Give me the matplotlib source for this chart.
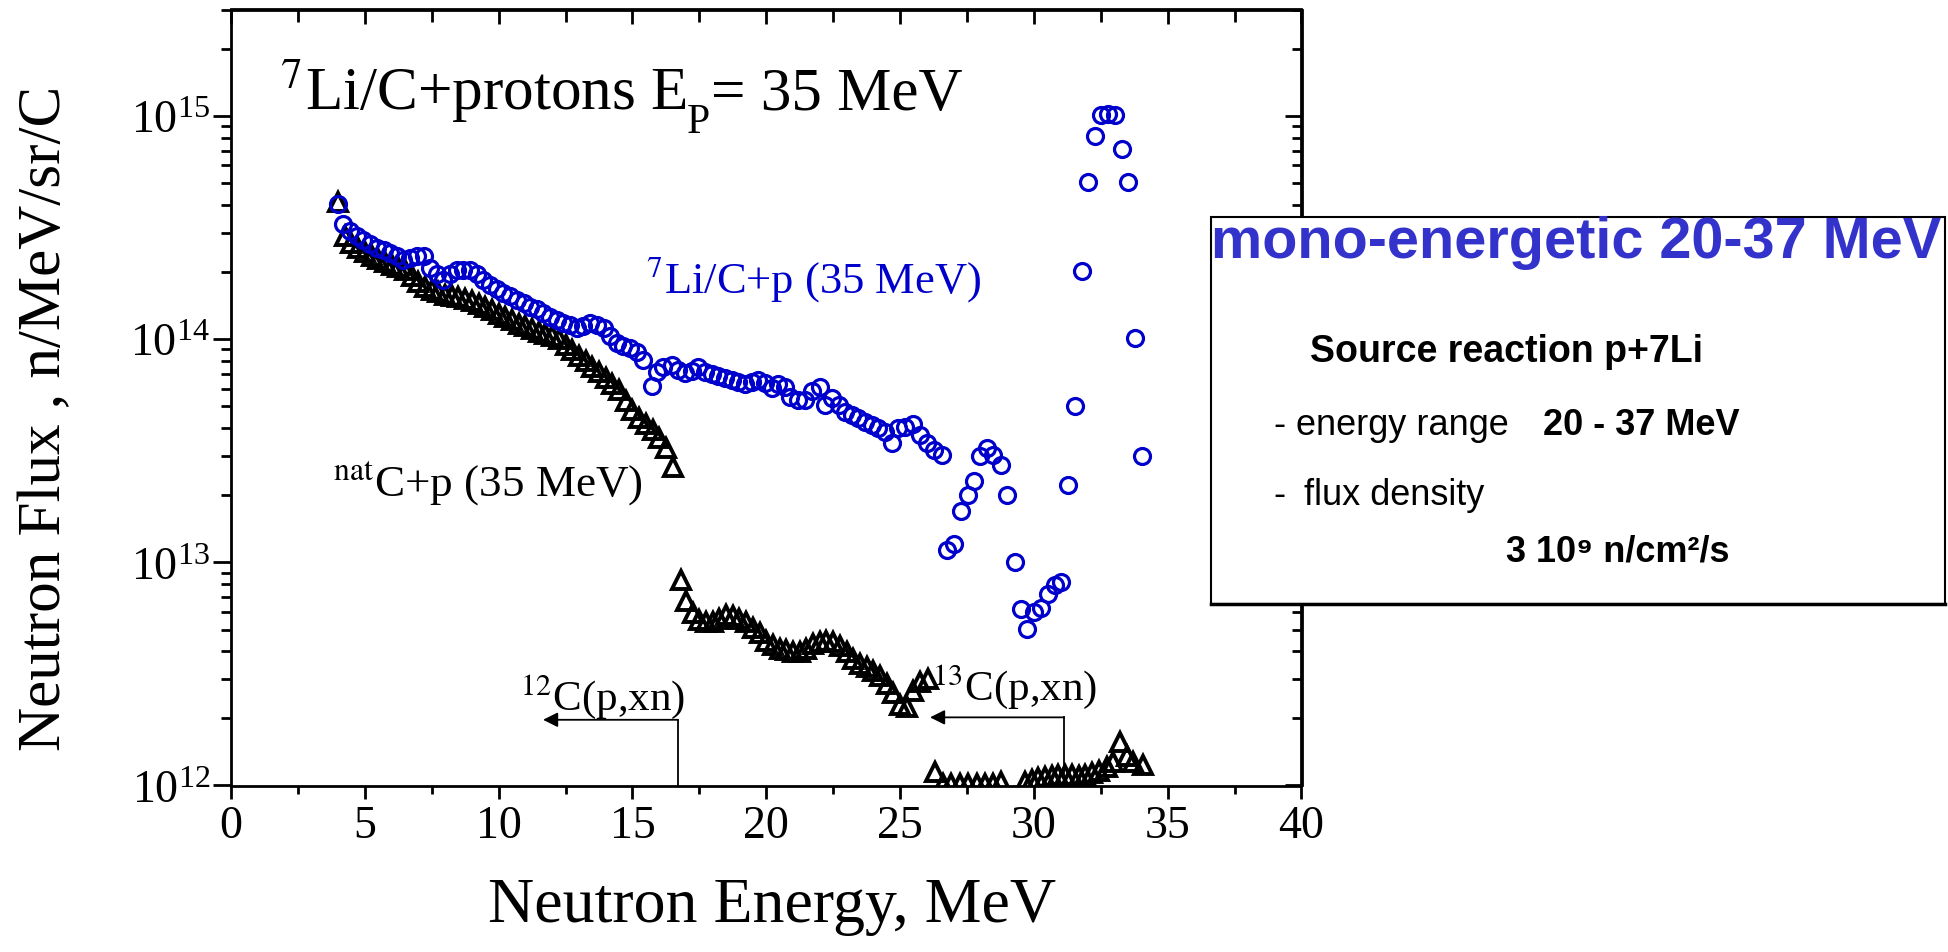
import numpy as np
import matplotlib
matplotlib.use('Agg')
import matplotlib.pyplot as plt
from matplotlib.patches import Rectangle
from matplotlib.ticker import MultipleLocator, LogLocator, NullFormatter, LogFormatterMathtext

# ---------------- data ----------------
# 7Li/C + p (35 MeV), open blue circles
li_x = [4.00, 4.20, 4.45, 4.70, 4.95, 5.20, 5.45, 5.70, 5.95, 6.19, 6.44, 6.69, 6.94, 7.21,
        7.44, 7.69, 7.93, 8.18, 8.43, 8.68, 8.93, 9.18, 9.43, 9.68, 9.93, 10.18, 10.43, 10.68,
        10.93, 11.18, 11.42, 11.67, 11.92, 12.17, 12.42, 12.67, 12.92, 13.17, 13.42, 13.67,
        13.92, 14.16, 14.41, 14.66, 14.91, 15.16, 15.41, 15.72, 15.91, 16.16, 16.47, 16.72,
        16.97, 17.21, 17.46, 17.71, 17.96, 18.21, 18.46, 18.71, 18.96, 19.21, 19.46, 19.71,
        19.96, 20.20, 20.45, 20.70, 20.89, 21.20, 21.45, 21.70, 22.01, 22.20, 22.45, 22.70,
        22.95, 23.19, 23.44, 23.69, 23.94, 24.19, 24.44, 24.69, 24.94, 25.19, 25.50, 25.75,
        26.00, 26.25, 26.56,
        26.74, 27.02, 27.27, 27.52, 27.77, 27.99, 28.24, 28.49, 28.76, 29.01, 29.30, 29.51,
        29.76, 30.01, 30.26, 30.53, 30.78, 31.03, 31.27, 31.54, 31.79, 32.04, 32.29, 32.50,
        32.76, 33.04, 33.28, 33.53, 33.78, 34.03]
li_y = [4.05e14, 3.27e14, 3.05e14, 2.90e14, 2.79e14, 2.68e14, 2.56e14, 2.52e14, 2.44e14, 2.36e14,
        2.27e14, 2.31e14, 2.36e14, 2.36e14, 2.08e14, 1.95e14, 1.85e14, 1.95e14, 2.05e14, 2.05e14,
        2.05e14, 1.95e14, 1.85e14, 1.75e14, 1.67e14, 1.61e14, 1.56e14, 1.50e14, 1.45e14, 1.40e14,
        1.36e14, 1.31e14, 1.26e14, 1.22e14, 1.18e14, 1.16e14, 1.12e14, 1.14e14, 1.18e14, 1.16e14,
        1.12e14, 1.03e14, 9.6e13, 9.3e13, 9.1e13, 8.8e13, 8.07e13, 6.14e13, 7.16e13, 7.47e13,
        7.62e13, 7.29e13, 7.05e13, 7.17e13, 7.47e13, 7.12e13, 7.00e13, 6.85e13, 6.69e13, 6.58e13,
        6.41e13, 6.28e13, 6.41e13, 6.58e13, 6.35e13, 6.07e13, 6.28e13, 6.13e13, 5.53e13, 5.35e13,
        5.35e13, 5.83e13, 6.13e13, 5.08e13, 5.44e13, 5.08e13, 4.74e13, 4.58e13, 4.42e13, 4.25e13,
        4.13e13, 3.99e13, 3.85e13, 3.42e13, 3.99e13, 4.06e13, 4.17e13, 3.72e13, 3.41e13, 3.19e13,
        3.03e13,
        1.13e13, 1.21e13, 1.70e13, 2.00e13, 2.31e13, 3.01e13, 3.24e13, 3.03e13, 2.73e13, 2.00e13,
        1.00e13, 6.2e12, 5.04e12, 6.0e12, 6.25e12, 7.24e12, 7.89e12, 8.2e12, 2.22e13, 5.04e13,
        2.03e14, 5.08e14, 8.13e14, 1.01e15, 1.02e15, 1.01e15, 7.09e14, 5.08e14, 1.01e14, 3.01e13]

# natC + p (35 MeV), open black triangles
c_x = [4.00, 4.25, 4.50, 4.75, 5.00, 5.25, 5.50, 5.75, 6.00, 6.25, 6.50, 6.75, 7.00, 7.25,
       7.50, 7.75, 8.00, 8.25, 8.50, 8.75, 9.00, 9.25, 9.50, 9.75, 10.00, 10.25, 10.50, 10.75,
       11.00, 11.25, 11.50, 11.75, 12.00, 12.25, 12.50, 12.75, 13.00, 13.25, 13.50, 13.75,
       14.00, 14.25, 14.50, 14.75, 15.00, 15.25, 15.50, 15.75, 16.00, 16.25, 16.53,
       16.80, 17.00, 17.25, 17.50, 17.75, 18.00, 18.25, 18.50, 18.75, 19.00, 19.25, 19.50,
       19.75, 20.00, 20.25, 20.50, 20.75, 21.00, 21.25, 21.50, 21.75, 22.00, 22.25, 22.50,
       22.75, 23.00, 23.25, 23.50, 23.75, 24.00, 24.25, 24.50, 24.75, 25.00, 25.25, 25.50,
       25.75, 26.06,
       26.31, 26.61, 26.92, 27.23, 27.54, 27.86, 28.17, 28.48, 28.79,
       29.67, 29.92, 30.17, 30.42, 30.67, 30.92, 31.17, 31.42, 31.67, 31.92, 32.17, 32.42,
       32.72, 32.97, 33.22, 33.47, 33.72, 34.09]
c_y = [4.1e14, 2.9e14, 2.7e14, 2.55e14, 2.45e14, 2.35e14, 2.28e14, 2.22e14, 2.15e14, 2.10e14,
       2.05e14, 1.92e14, 1.80e14, 1.72e14, 1.66e14, 1.62e14, 1.58e14, 1.56e14, 1.54e14, 1.52e14,
       1.48e14, 1.44e14, 1.40e14, 1.35e14, 1.30e14, 1.26e14, 1.22e14, 1.17e14, 1.14e14, 1.11e14,
       1.08e14, 1.05e14, 1.03e14, 1.00e14, 9.4e13, 8.9e13, 8.4e13, 8.0e13, 7.5e13, 7.1e13,
       6.7e13, 6.3e13, 5.9e13, 5.3e13, 4.8e13, 4.45e13, 4.15e13, 3.9e13, 3.6e13, 3.25e13, 2.68e13,
       8.3e12, 6.7e12, 5.9e12, 5.5e12, 5.4e12, 5.4e12, 5.6e12, 5.8e12, 5.75e12, 5.6e12, 5.4e12,
       5.1e12, 4.8e12, 4.45e12, 4.25e12, 4.1e12, 4.05e12, 3.95e12, 3.95e12, 4.1e12, 4.3e12,
       4.4e12, 4.45e12, 4.4e12, 4.2e12, 3.95e12, 3.7e12, 3.5e12, 3.4e12, 3.25e12, 3.1e12,
       2.85e12, 2.6e12, 2.3e12, 2.25e12, 2.65e12, 2.9e12, 3.0e12,
       1.15e12, 1.02e12, 1.02e12, 1.02e12, 1.02e12, 1.02e12, 1.02e12, 1.02e12, 1.04e12,
       1.04e12, 1.06e12, 1.08e12, 1.09e12, 1.10e12, 1.11e12, 1.12e12, 1.11e12, 1.10e12,
       1.12e12, 1.14e12, 1.16e12, 1.21e12, 1.28e12, 1.57e12, 1.35e12, 1.27e12, 1.24e12]

x_ticks = [0, 5, 10, 15, 20, 25, 30, 35, 40]

# reaction thresholds (arrows)
c12_x, c12_left, c12_y = 16.7, 11.66, 1.97e12
c13_x, c13_left, c13_y = 31.13, 26.12, 2.02e12

# ---------------- figure ----------------
plt.rcParams['font.family'] = ['Liberation Serif', 'DejaVu Serif']
plt.rcParams['mathtext.fontset'] = 'stix'

W, H = 1948, 953
fig = plt.figure(figsize=(W / 100, H / 100), dpi=100)
L, R, T, B = 231, 1301.5, 10.5, 786.5
ax = fig.add_axes([L / W, 1 - B / H, (R - L) / W, (B - T) / H])

ax.set_yscale('log')
ax.set_xlim(0, 40)
ax.set_ylim(1e12, 3e15)

ax.plot(c_x, c_y, ls='none', marker='^', ms=13.5, mfc='none', mec='black', mew=2.8, zorder=3)
ax.plot(li_x, li_y, ls='none', marker='o', ms=11.5, mfc='none', mec='#0000CC', mew=2.3, zorder=4)

for s in ax.spines.values():
    s.set_linewidth(2)

ax.set_xticks(x_ticks)
ax.xaxis.set_minor_locator(MultipleLocator(2.5))
ax.yaxis.set_major_locator(LogLocator(base=10))
ax.yaxis.set_minor_locator(LogLocator(base=10, subs=np.arange(2, 10)))
ax.yaxis.set_minor_formatter(NullFormatter())
ax.yaxis.set_major_formatter(LogFormatterMathtext())
ax.tick_params(axis='x', which='major', direction='out', length=9, width=2, labelsize=33, pad=5)
ax.tick_params(axis='x', which='minor', direction='out', length=6, width=2)
ax.tick_params(axis='y', which='major', direction='out', length=13, width=2, labelsize=33, pad=2)
ax.tick_params(axis='y', which='minor', direction='out', length=7.5, width=2)

secx = ax.secondary_xaxis('top')
secx.set_xticks(x_ticks)
secx.xaxis.set_minor_locator(MultipleLocator(2.5))
secx.tick_params(which='major', direction='in', length=11, width=2, labeltop=False)
secx.tick_params(which='minor', direction='in', length=9, width=2)
secx.spines['top'].set_linewidth(2)

secy = ax.secondary_yaxis('right')
secy.yaxis.set_major_locator(LogLocator(base=10))
secy.yaxis.set_minor_locator(LogLocator(base=10, subs=np.arange(2, 10)))
secy.yaxis.set_minor_formatter(NullFormatter())
secy.tick_params(which='major', direction='in', length=12, width=2, labelright=False)
secy.tick_params(which='minor', direction='in', length=7, width=2)
secy.spines['right'].set_linewidth(2)

# axis labels
fig.text(45 / W, 1 - 418 / H, 'Neutron Flux , n/MeV/sr/C', rotation=90,
         ha='center', va='center', fontsize=44)
fig.text(772 / W, 1 - 922 / H, 'Neutron Energy, MeV', ha='center', va='baseline', fontsize=46)

# title built from pieces so that the subscript P sits low like in the reference
renderer = fig.canvas.get_renderer()
t1 = fig.text(280 / W, 1 - 110 / H, r'$^{7}$Li/C+protons E', fontsize=44, va='baseline')
x1 = t1.get_window_extent(renderer).x1
t2 = fig.text((x1 + 1) / W, 1 - 133 / H, 'P', fontsize=30, va='baseline')
x2 = t2.get_window_extent(renderer).x1
fig.text((x2 + 1) / W, 1 - 110 / H, '= 35 MeV', fontsize=44, va='baseline')

# annotations inside the plot
ax.text(15.52, 1.61e14, r'$^{7}$Li/C+p (35 MeV)', fontsize=32, color='#0000CC',
        ha='left', va='baseline')
ax.text(3.81, 2.0e13, r'$^{\mathrm{nat}}$C+p (35 MeV)', fontsize=32.5,
        ha='left', va='baseline')
ax.text(10.8, 2.21e12, r'$^{12}$C(p,xn)', fontsize=31, ha='left', va='baseline')
ax.text(26.2, 2.44e12, r'$^{13}$C(p,xn)', fontsize=31, ha='left', va='baseline')

for xv, xl, yv in [(c12_x, c12_left, c12_y), (c13_x, c13_left, c13_y)]:
    ax.plot([xv, xv], [1e12, yv], color='black', lw=1.3, zorder=5)
    ax.annotate('', xy=(xl, yv), xytext=(xv, yv),
                arrowprops=dict(arrowstyle='-|>', color='black', lw=1.3,
                                mutation_scale=22, shrinkA=0, shrinkB=0), zorder=5)

# ---------------- right info box ----------------
fig.add_artist(Rectangle((1211 / W, 1 - 605 / H), (1945 - 1211) / W, (605 - 218) / H,
                         transform=fig.transFigure, facecolor='white', edgecolor='black',
                         lw=1.5, zorder=5))
fig.add_artist(plt.Line2D([1211 / W, 1945 / W], [1 - 605 / H, 1 - 605 / H],
                          transform=fig.transFigure, color='black', lw=2.5, zorder=5))

sans = ['Liberation Sans', 'DejaVu Sans']
def ftext(x, y, s, **kw):
    fig.text(x / W, 1 - y / H, s, family=sans, va='baseline', zorder=6, **kw)

ftext(1211, 258, 'mono-energetic 20-37 MeV', fontsize=41.5, fontweight='bold', color='#3333CC')
ftext(1506, 362, 'Source reaction p+7Li', fontsize=27, fontweight='bold', ha='center')
ftext(1273, 435, '-', fontsize=26)
ftext(1296, 435, 'energy range', fontsize=26)
ftext(1543, 435, '20 - 37 MeV', fontsize=26, fontweight='bold')
ftext(1273, 505, '-', fontsize=26)
ftext(1304, 505, 'flux density', fontsize=26)
ftext(1506, 562, '3 10\u2079 n/cm\u00b2/s', fontsize=26, fontweight='bold')

fig.savefig('out.png', dpi=100)
